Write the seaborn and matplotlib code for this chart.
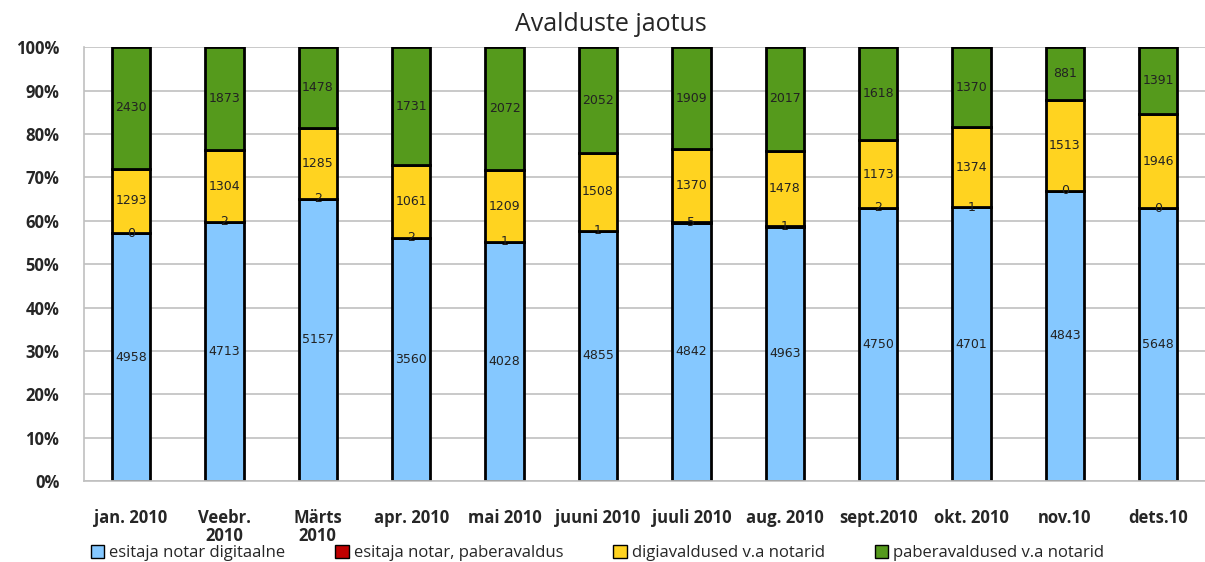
import numpy as np
import pandas as pd
import seaborn as sns
import matplotlib.pyplot as plt
from matplotlib.ticker import PercentFormatter

sns.set_theme(style="white")
plt.rcParams['font.family'] = ['Open Sans', 'DejaVu Sans']

months = ["jan. 2010", "Veebr.\n2010", "Märts\n2010", "apr. 2010", "mai 2010", "juuni 2010",
          "juuli 2010", "aug. 2010", "sept.2010", "okt. 2010", "nov.10", "dets.10"]
series = ["esitaja notar digitaalne", "esitaja notar, paberavaldus",
          "digiavaldused v.a notarid", "paberavaldused v.a notarid"]
notar_digi = [4958, 4713, 5157, 3560, 4028, 4855, 4842, 4963, 4750, 4701, 4843, 5648]
notar_paber = [0, 2, 2, 2, 1, 1, 5, 1, 2, 1, 0, 0]
digi_muud = [1293, 1304, 1285, 1061, 1209, 1508, 1370, 1478, 1173, 1374, 1513, 1946]
paber_muud = [2430, 1873, 1478, 1731, 2072, 2052, 1909, 2017, 1618, 1370, 881, 1391]
colors = ["#85C8FF", "#C00000", "#FFD320", "#559A1C"]

counts = pd.DataFrame({series[0]: notar_digi, series[1]: notar_paber,
                       series[2]: digi_muud, series[3]: paber_muud}, index=months)
pct = counts.div(counts.sum(axis=1), axis=0) * 100

fig = plt.figure(figsize=(12.05, 5.62), dpi=100)
ax = fig.add_axes([0.07, 0.144, 0.93, 0.772])

bottom = np.zeros(len(months))
for name, col in zip(series, colors):
    sns.barplot(x=months, y=pct[name].values, bottom=bottom, color=col, width=0.41,
                edgecolor="black", linewidth=2, saturation=1, label=name, ax=ax)
    cont = ax.containers[-1]
    ax.bar_label(cont, labels=[str(v) for v in counts[name]], label_type="center",
                 fontsize=9, family="DejaVu Sans", color="#222222")
    bottom = bottom + pct[name].values

ax.set_ylim(0, 100)
ax.set_xlim(-0.5, len(months) - 0.5)
ax.yaxis.set_major_locator(plt.MultipleLocator(10))
ax.yaxis.set_major_formatter(PercentFormatter(decimals=0))
ax.yaxis.grid(True, color="#C0C0C0", linewidth=1.2)
ax.set_axisbelow(True)
for s in ["top", "right"]:
    ax.spines[s].set_visible(False)
for s in ["left", "bottom"]:
    ax.spines[s].set_color("#C0C0C0")
    ax.spines[s].set_linewidth(1.2)
ax.tick_params(axis="y", labelsize=12, pad=12)
ax.tick_params(axis="x", labelsize=12, pad=20, length=0)
for t in ax.get_xticklabels() + ax.get_yticklabels():
    t.set_fontweight("bold")
    t.set_linespacing(1.0)
ax.set_title("Avalduste jaotus", fontsize=18, pad=12, x=0.47)

leg = ax.legend(loc="lower left", bbox_to_anchor=(0.0, -0.2), ncol=4, frameon=False,
                fontsize=12, handlelength=0.8, handleheight=0.8, handletextpad=0.3,
                columnspacing=3.0, borderaxespad=0)
for h in leg.legend_handles:
    h.set_linewidth(1)

fig.savefig("out.png", dpi=100)
